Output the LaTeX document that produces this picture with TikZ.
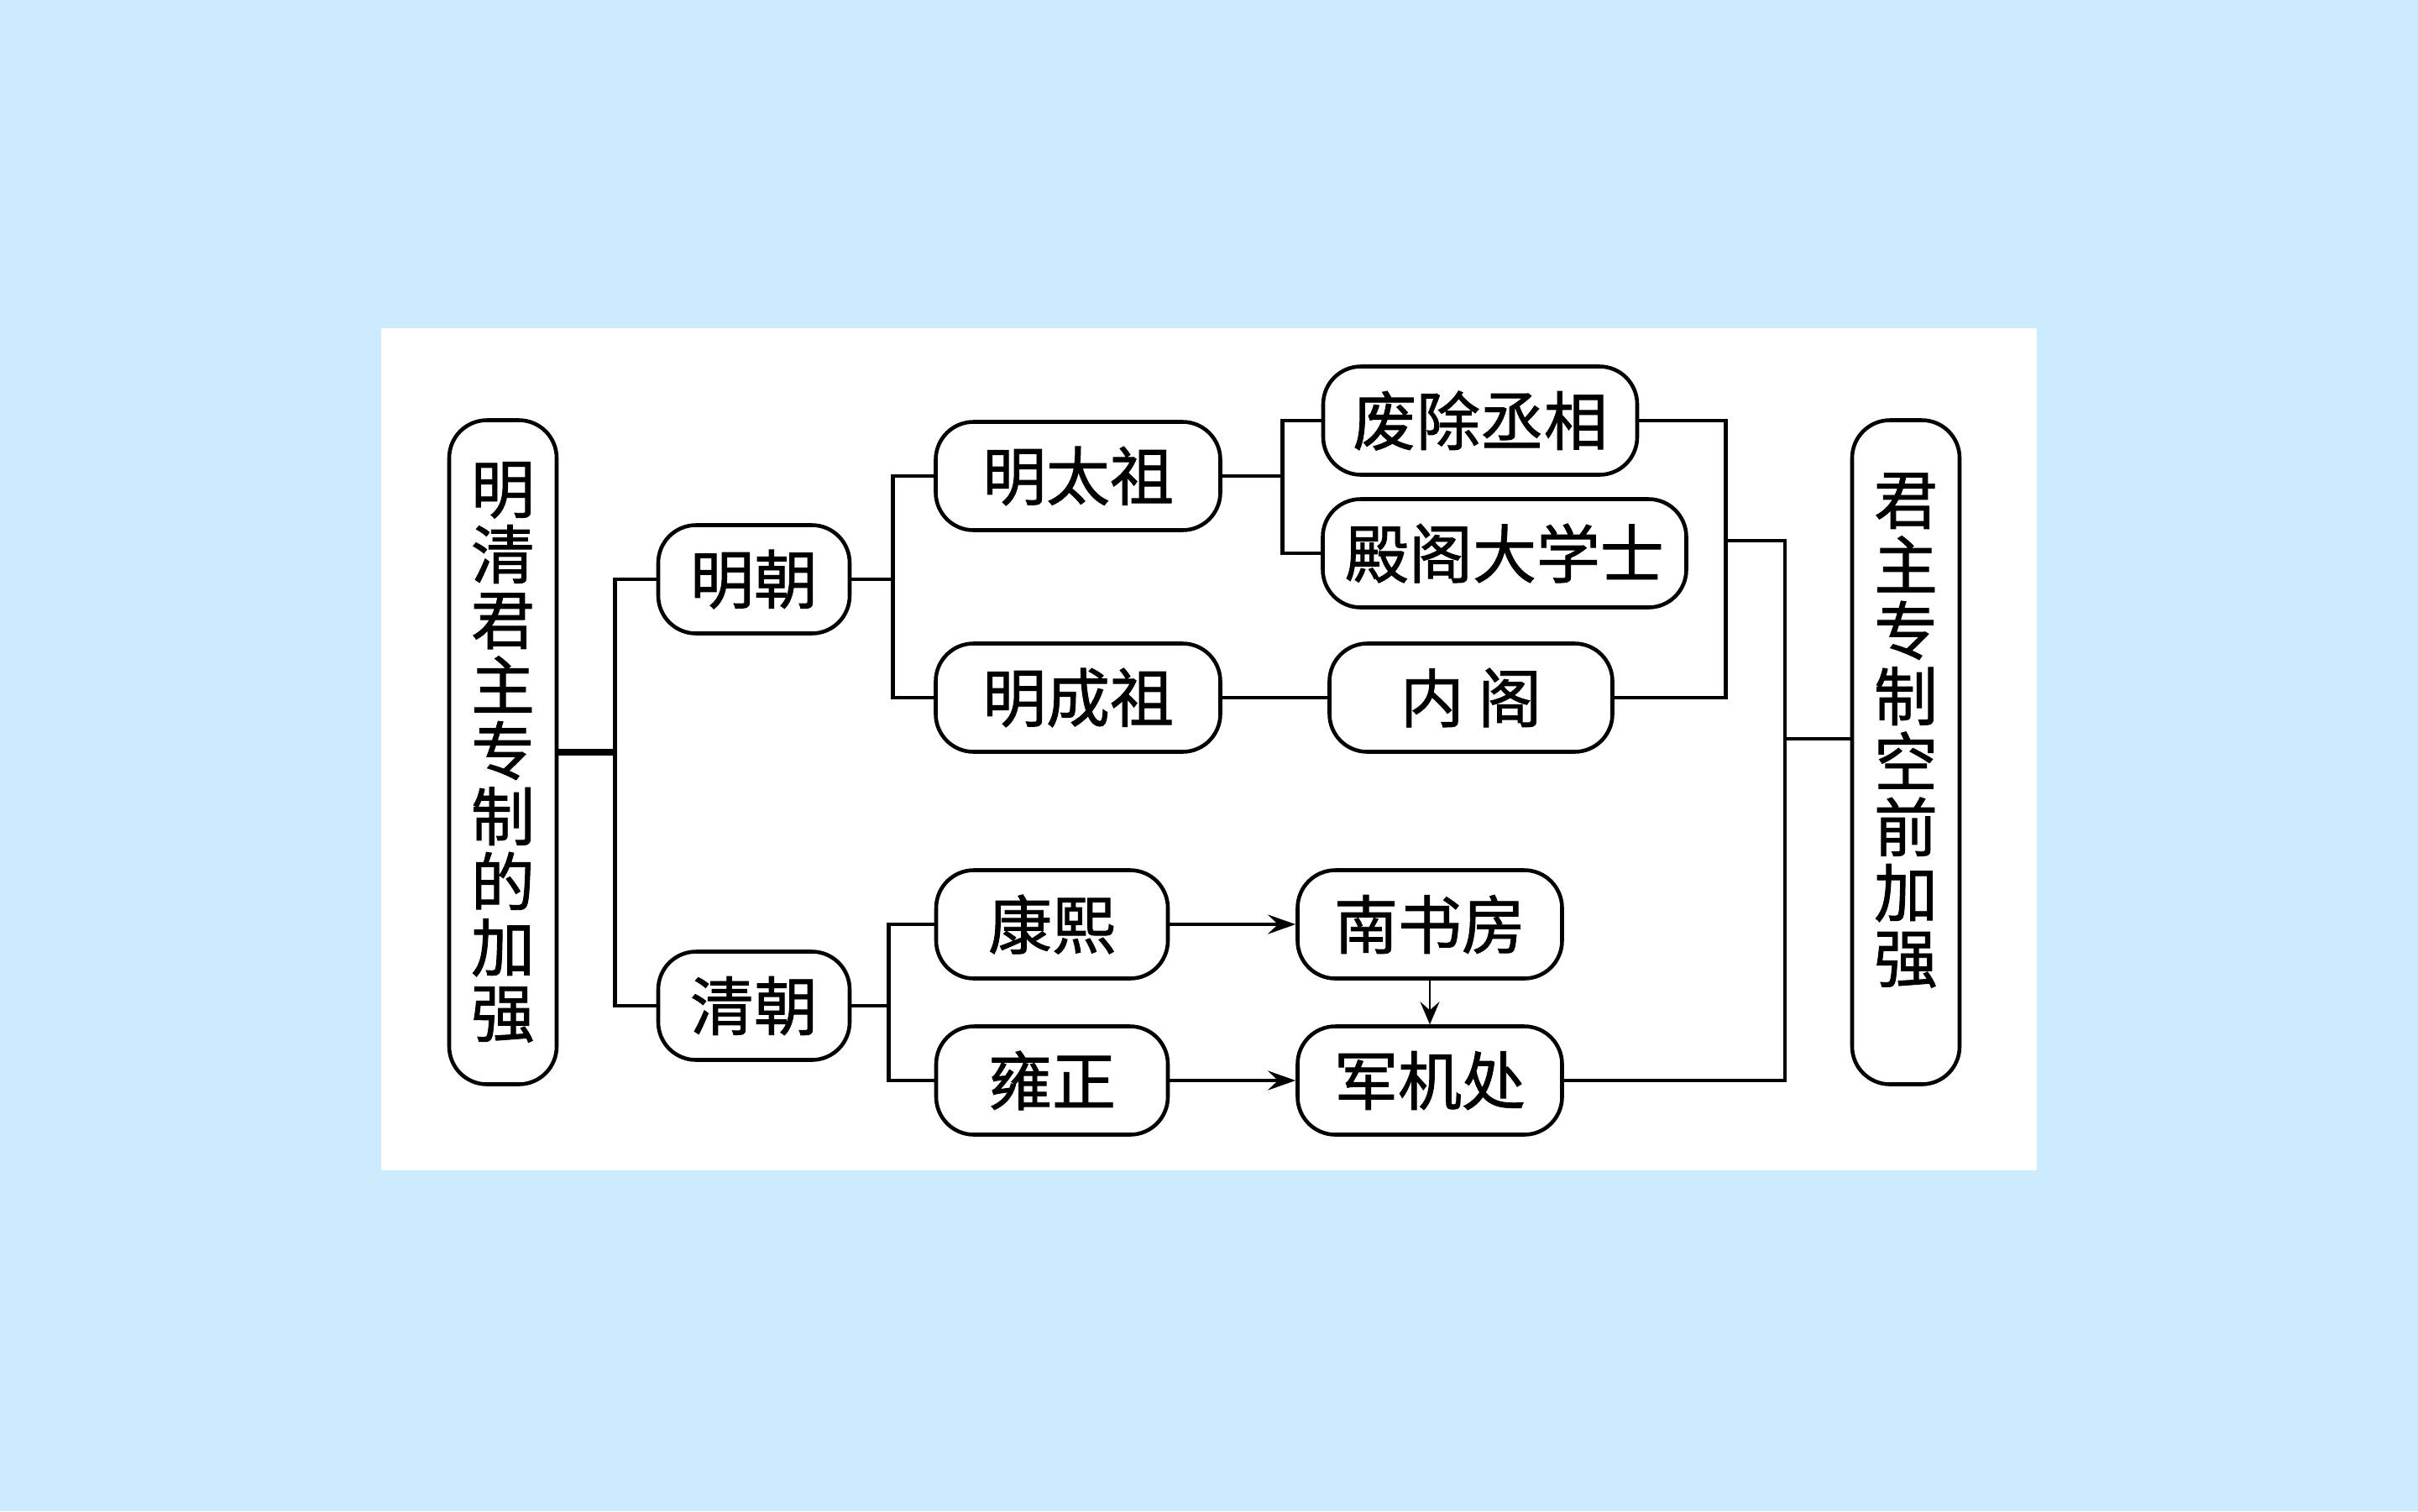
\documentclass[tikz,border=0pt]{standalone}
\usepackage{fontspec}
\newfontfamily\cjk[FakeBold=1.2]{Noto Sans CJK SC}
\usetikzlibrary{arrows.meta}
\definecolor{pagebg}{RGB}{204,235,254}

\begin{document}
\begin{tikzpicture}[
          box/.style={
            draw, line width=1.3pt, rounded corners=4.5mm, fill=white,
            minimum height=1.29cm, inner sep=0pt, anchor=center,
            font=\cjk\fontsize{21.6}{24}\selectfont
          },
          tall/.style={box, minimum width=1.28cm, minimum height=7.91cm,
            align=center, font=\cjk\fontsize{21.6}{22.2}\selectfont},
          link/.style={line width=1.4pt},
          trunk/.style={line width=2.4pt},
          flow/.style={link, -{Stealth[length=3.3mm, width=2.3mm, inset=1.2mm]}},
          hint/.style={line width=0.8pt, -{Stealth[length=2.7mm, width=2.3mm, inset=1mm]}},
        ]
          \useasboundingbox (0,0) rectangle (28.8,-18);
          \fill[pagebg] (0,0) rectangle (28.8,-18);
          \fill[white] (4.54,-3.91) rectangle (24.26,-13.94);

          % Outer columns
          \node[tall] (lead) at (5.99,-8.96) {明\\清\\君\\主\\专\\制\\的\\加\\强};
          \node[tall] (result) at (22.70,-8.96) {\raisebox{2.6mm}[\height][\depth]{%
            \parbox{1em}{\centering 君\\主\\专\\制\\空\\前\\加\\强}}};

          % Dynasties
          \node[box, minimum width=2.28cm] (ming) at (8.98,-6.90) {明朝};
          \node[box, minimum width=2.28cm] (qing) at (8.98,-11.98) {清朝};

          % Ming emperors
          \node[box, minimum width=3.39cm] (taizu) at (12.84,-5.67) {明太祖};
          \node[box, minimum width=3.39cm] (chengzu) at (12.84,-8.31) {明成祖};

          % Ming measures
          \node[box, minimum width=3.74cm] (feichu) at (17.63,-5.01) {废除丞相};
          \node[box, minimum width=4.33cm] (dange) at (17.92,-6.59) {殿阁大学士};
          \node[box, minimum width=3.37cm] (neige) at (17.52,-8.31) {内\hspace{0.22em}阁};

          % Qing emperors
          \node[box, minimum width=2.76cm] (kangxi) at (12.53,-11.01) {康熙};
          \node[box, minimum width=2.76cm] (yongzheng) at (12.53,-12.87) {雍正};

          % Qing offices
          \node[box, minimum width=3.15cm] (nanshu) at (17.03,-11.01) {南书房};
          \node[box, minimum width=3.15cm] (junji) at (17.03,-12.87) {军机处};

          % Left tree
          \draw[link] (ming.west) -- ++(-0.49,0) coordinate (split) |- (qing.west);
          \draw[trunk] (lead.east) -- (lead.east -| split);
          \draw[link] (ming.east) -- ++(0.49,0) coordinate (mfork);
          \draw[link] (taizu.west) -| (mfork) |- (chengzu.west);
          \draw[link] (taizu.east) -- ++(0.72,0) coordinate (tfork);
          \draw[link] (feichu.west) -| (tfork) |- (dange.west);
          \draw[link] (chengzu) -- (neige);
          \draw[link] (qing.east) -- ++(0.44,0) coordinate (qfork);
          \draw[link] (kangxi.west) -| (qfork) |- (yongzheng.west);

          % Arrows in Qing
          \draw[flow] (kangxi) -- (nanshu);
          \draw[flow] (yongzheng) -- (junji);
          \draw[hint] (nanshu.south) -- (junji.north);

          % Right collector
          \coordinate (hub) at (21.26,-8.80);
          \draw[link] (feichu.east) -- ++(1.03,0) coordinate (ufork) |- (neige.east);
          \draw[link] (ufork) ++(0,-1.43) -| (hub) |- (junji.east);
          \draw[link] (hub) -- (hub -| result.west);
        \end{tikzpicture}
\end{document}
